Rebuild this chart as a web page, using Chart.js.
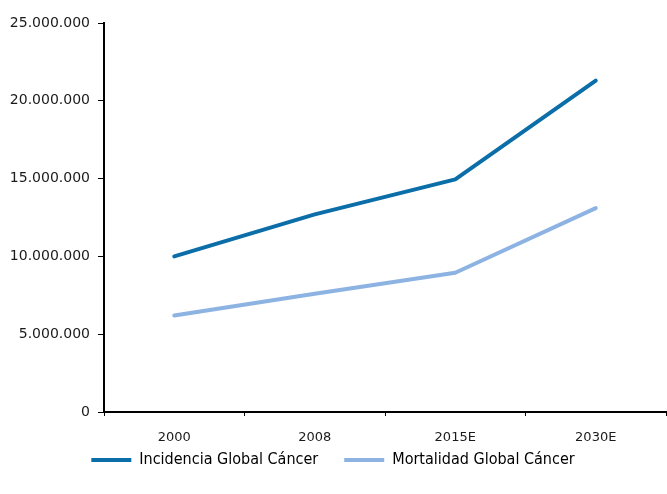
<!DOCTYPE html>
<html>
<head>
<meta charset="utf-8">
<script src="https://cdn.jsdelivr.net/npm/chart.js@4/dist/chart.umd.min.js"></script>
<style>
  html, body { margin: 0; padding: 0; background: #fff; }
  canvas { display: block; }
</style>
</head>
<body>
<canvas id="c" width="667" height="494"></canvas>
<script>
// Global cancer incidence and mortality (cases), with estimates for 2015 and 2030
const categories = ['2000', '2008', '2015E', '2030E'];
const incidencia = [10000000, 12700000, 14950000, 21300000];
const mortalidad = [6200000, 7600000, 8950000, 13100000];
const seriesNames = ['Incidencia Global Cáncer', 'Mortalidad Global Cáncer'];
const yTicks = [0, 5000000, 10000000, 15000000, 20000000, 25000000];

const colorInc = '#0b6ea8';
const colorMort = '#8db3e3';
const FONT = '"DejaVu Sans", sans-serif';
const FONT_COND = '"DejaVu Sans Condensed", "DejaVu Sans", sans-serif';

function fmt(v) {
  return String(v).replace(/\B(?=(\d{3})+(?!\d))/g, '.');
}

// Pull the legend row a little closer to the category axis
const legendLift = {
  id: 'legendLift',
  afterLayout(chart) {
    const lg = chart.legend;
    if (lg) { lg.top -= 16; lg.bottom -= 16; }
  }
};

new Chart(document.getElementById('c'), {
  type: 'line',
  data: {
    labels: categories,
    datasets: [
      { label: seriesNames[0], data: incidencia, borderColor: colorInc, backgroundColor: colorInc,
        borderWidth: 4, pointRadius: 0, tension: 0, borderCapStyle: 'round', borderJoinStyle: 'round' },
      { label: seriesNames[1], data: mortalidad, borderColor: colorMort, backgroundColor: colorMort,
        borderWidth: 4, pointRadius: 0, tension: 0, borderCapStyle: 'round', borderJoinStyle: 'round' }
    ]
  },
  plugins: [legendLift],
  options: {
    responsive: false,
    animation: false,
    layout: { padding: { top: 23, right: 1, left: 0, bottom: 0 } },
    plugins: {
      tooltip: { enabled: false },
      legend: {
        position: 'bottom',
        labels: {
          color: '#1a1a1a',
          font: { family: FONT_COND, size: 16 },
          boxWidth: 40,
          boxHeight: 4,
          padding: 26,
          generateLabels(chart) {
            return chart.data.datasets.map((ds, i) => ({
              text: ds.label,
              fillStyle: ds.borderColor,
              strokeStyle: ds.borderColor,
              lineWidth: 0,
              datasetIndex: i,
              hidden: false
            }));
          }
        }
      }
    },
    scales: {
      x: {
        offset: true,
        grid: { display: true, drawOnChartArea: false, offset: true, color: '#000', tickLength: 4, tickWidth: 1 },
        border: { display: true, color: '#000', width: 2 },
        ticks: { color: '#1a1a1a', font: { family: FONT, size: 13 }, padding: 14 },
        afterFit(scale) { scale.height = 30; }
      },
      y: {
        min: 0,
        max: 25000000,
        afterBuildTicks(scale) { scale.ticks = yTicks.map(v => ({ value: v })); },
        grid: { display: true, drawOnChartArea: false, color: '#000', tickLength: 6, tickWidth: 1 },
        border: { display: true, color: '#000', width: 2 },
        ticks: { color: '#1a1a1a', font: { family: FONT, size: 14 }, padding: 8, callback: v => fmt(v) },
        afterFit(scale) { scale.width = 104; }
      }
    }
  }
});
</script>
</body>
</html>
